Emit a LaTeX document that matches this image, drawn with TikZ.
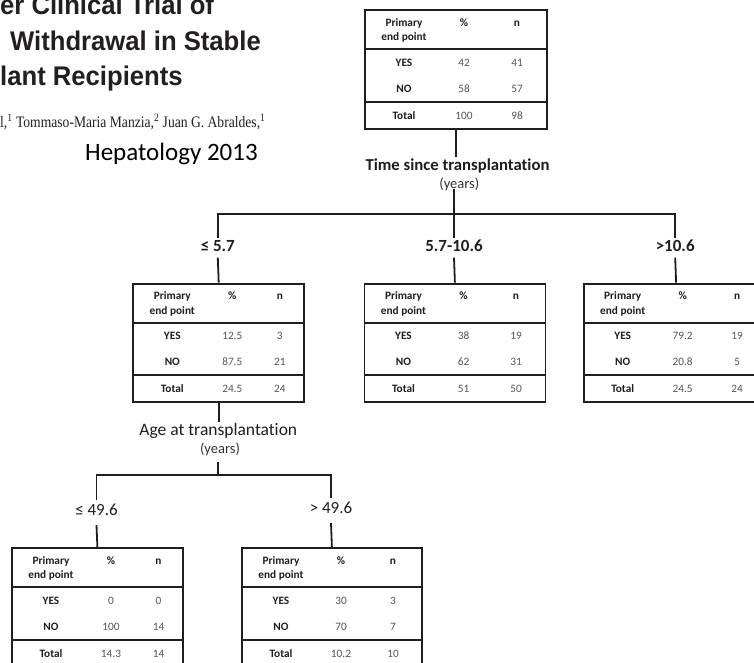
\documentclass[tikz,border=0pt]{standalone}
\usepackage{fontspec}
\setmainfont{Carlito}[Ligatures={NoCommon}]
\newfontfamily\ttlfont[FakeStretch=0.95]{Liberation Sans}
\newfontfamily\authfont[FakeStretch=0.85]{Liberation Serif}
\newcommand\fsz[1]{\fontsize{#1}{#1}\selectfont}
\definecolor{inkc}{HTML}{1E1E1E}
\definecolor{numc}{HTML}{555555}
\definecolor{yrc}{HTML}{333333}
\definecolor{titc}{HTML}{231F20}
\tikzset{
 tline/.style={draw=inkc, line width=1.8pt},
 tbox/.style={draw=inkc, line width=1.8pt, rectangle, minimum height=118.5pt, inner sep=0pt},
 thead/.style={font=\fsz{11.3}\bfseries, text=inkc, inner sep=0pt, text height=7.5pt, text depth=0pt},
 theadtwo/.style={font=\fontsize{11.3}{14.5}\selectfont\bfseries, text=inkc, inner sep=0pt, align=center},
 tval/.style={font=\fsz{11.3}, text=numc, inner sep=0pt, text height=7.5pt, text depth=0pt},
 brbold/.style={font=\fsz{17}\bfseries, text=inkc, inner xsep=1pt, inner ysep=1.5pt, text height=12pt, text depth=4pt},
 brreg/.style={font=\fsz{17}, text=inkc, inner xsep=1pt, inner ysep=3.4pt, text height=12pt, text depth=6pt},
 critbold/.style={font=\fsz{16.7}\bfseries, text=inkc, inner xsep=1pt, inner ysep=1.5pt, text height=11.5pt, text depth=0pt, anchor=base},
 critreg/.style={font=\fsz{17.5}, text=inkc, inner xsep=1pt, inner ysep=1.5pt, text height=12pt, text depth=0pt, anchor=base},
 yrlab/.style={font=\fsz{14.5}, text=yrc, inner sep=0pt, text height=10pt, text depth=0pt, anchor=base},
 ttlstyle/.style={font=\ttlfont\bfseries\fsz{27}, text=titc, inner sep=0pt, anchor=base west},
 authstyle/.style={font=\authfont\fsz{16}, text=titc, inner sep=0pt, anchor=base west},
 jrnlstyle/.style={font=\fsz{25}, text=black, inner sep=0pt, anchor=base west},
}
% table: name, x, y, width ; then yes%, yes n, no%, no n, total%, total n
\newcommand\rtab[4]{\def\rtN{#1}\def\rtX{#2}\def\rtY{#3}\def\rtW{#4}\rtabvals}
\newcommand\rtabvals[6]{%
  \node[tbox, minimum width=\rtW pt, anchor=north west] (\rtN) at (\rtX,\rtY) {};
  \draw[tline] ([yshift=-40pt]\rtN.north west) -- ([yshift=-40pt]\rtN.north east);
  \draw[tline] ([yshift=-92.5pt]\rtN.north west) -- ([yshift=-92.5pt]\rtN.north east);
  \node[theadtwo] (\rtN-hd) at (\rtX+40,\rtY+21) {Primary\\end point};
  \node[thead] (\rtN-pc) at (\rtX+100,\rtY+13) {\%};
  \node[thead] (\rtN-n) at (\rtX+0.5*\rtW+62,\rtY+13) {n};
  \node[thead] (\rtN-yes) at (\rtX+40,\rtY+53) {YES};
  \node[thead] (\rtN-no) at (\rtX+40,\rtY+79.5) {NO};
  \node[thead] (\rtN-tot) at (\rtX+40,\rtY+106) {Total};
  \node[tval] (\rtN-v1) at (\rtX+100,\rtY+53) {#1};
  \node[tval] (\rtN-v2) at (\rtX+0.5*\rtW+62,\rtY+53) {#2};
  \node[tval] (\rtN-v3) at (\rtX+100,\rtY+79.5) {#3};
  \node[tval] (\rtN-v4) at (\rtX+0.5*\rtW+62,\rtY+79.5) {#4};
  \node[tval] (\rtN-v5) at (\rtX+100,\rtY+106) {#5};
  \node[tval] (\rtN-v6) at (\rtX+0.5*\rtW+62,\rtY+106) {#6};
}
\begin{document}
\begin{tikzpicture}[x=1pt,y=-1pt]
\useasboundingbox (0,0) rectangle (754,663);
\clip (0,0) rectangle (754,663);
\fill[white] (0,0) rectangle (754,663);

% header text
\node[ttlstyle] (ttl1) at (0,15) {er Clinical Trial of};
\node[ttlstyle] (ttl2) at (10,51) {Withdrawal in Stable};
\node[ttlstyle] (ttl3) at (0,86) {lant Recipients};
\node[authstyle] (auth) at (0,127.5) {l,\textsuperscript{1} Tommaso-Maria Manzia,\textsuperscript{2} Juan G. Abraldes,\textsuperscript{1}};
\node[jrnlstyle] (jrnl) at (85,160.5) {Hepatology 2013};

% tables
\rtab{t0}{364}{9.3}{182}{42}{41}{58}{57}{100}{98}
\rtab{t1}{132.3}{282.7}{171}{12.5}{3}{87.5}{21}{24.5}{24}
\rtab{t2}{363.5}{282.7}{181}{38}{19}{62}{31}{51}{50}
\rtab{t3}{582.7}{282.7}{185}{79.2}{19}{20.8}{5}{24.5}{24}
\rtab{t4}{11}{547.3}{171}{0}{0}{100}{14}{14.3}{14}
\rtab{t5}{241}{547.3}{180}{30}{3}{70}{7}{10.2}{10}

% first split
\node[critbold] (crit1) at (457.5,170.5) {Time since transplantation};
\node[yrlab] (yrs1) at (459.3,189) {(years)};
\coordinate (sp1) at (454,214);
\node[brbold] (lab1) at (217.8,247.9) {≤ 5.7};
\node[brbold] (lab2) at (454,247.9) {5.7-10.6};
\node[brbold] (lab3) at (675.2,247.9) {>10.6};

\draw[tline] (t0.south) -- (t0.south |- crit1.north);
\draw[tline] (yrs1.south -| lab2) -- (lab2.north);
\draw[tline] (lab1.north) |- (sp1) -| (lab3.north);
\draw[tline] (lab1.south) -- (t1.north);
\draw[tline] (lab2.south) -- (t2.north);
\draw[tline] (lab3.south) -- (t3.north);

% second split
\node[critreg] (crit2) at (218.3,435.3) {Age at transplantation};
\node[yrlab, text depth=8.4pt] (yrs2) at (220,453.3) {(years)};
\coordinate (sp2) at (217.8,475);
\node[brreg] (lab4) at (96.5,512.4) {≤ 49.6};
\node[brreg] (lab5) at (331,510.4) {> 49.6};

\draw[tline] (t1.south) -- (t1.south |- crit2.north);
\draw[tline] (yrs2.south -| sp2) -- (sp2);
\draw[tline] (lab4.north) |- (sp2) -| (lab5.north);
\draw[tline] (lab4.south) -- (t4.north);
\draw[tline] (lab5.south) -- (t5.north);
\end{tikzpicture}
\end{document}
